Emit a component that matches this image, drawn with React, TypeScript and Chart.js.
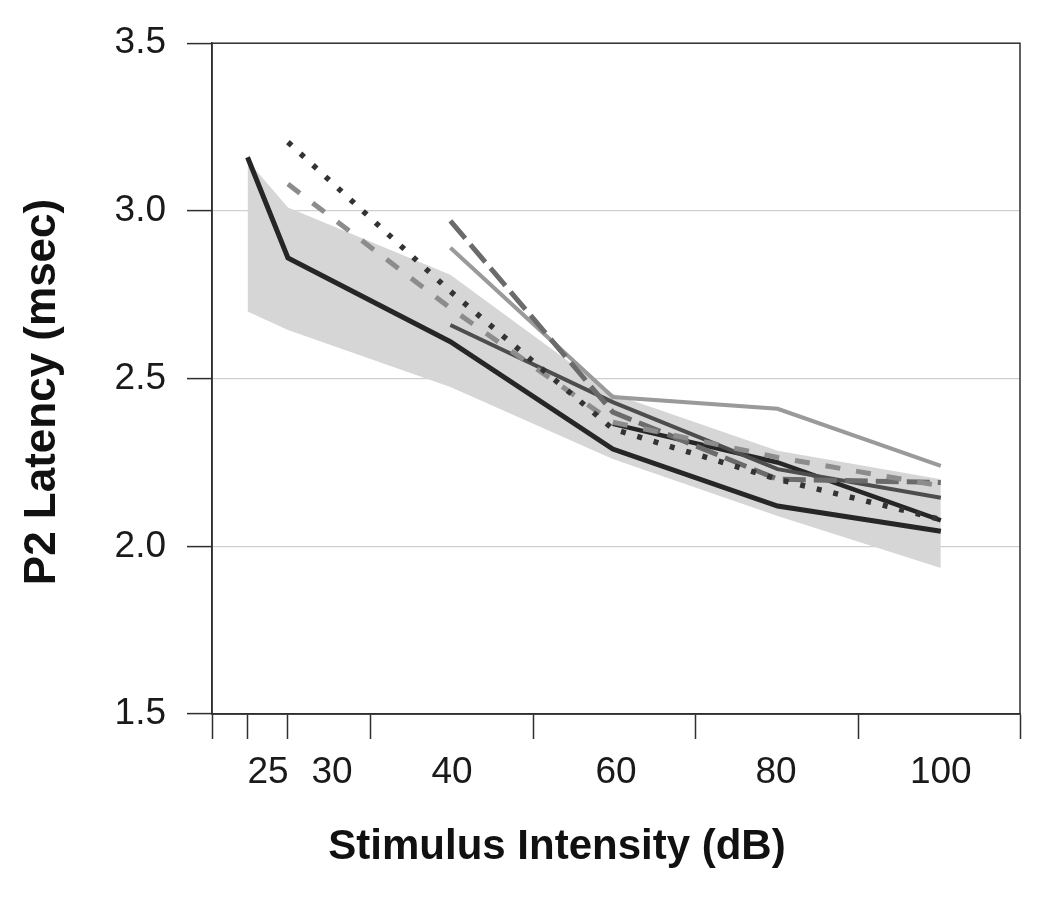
import React, { useEffect, useRef } from "react";
import { Chart, registerables } from "chart.js";

Chart.register(...registerables);

// Stimulus intensities (dB) and their slot on the (non-linear) x axis
const intensities = [25, 30, 40, 60, 80, 100];
const xSlot = [0.22, 0.47, 1.475, 2.48, 3.5, 4.51];

// x-axis tick marks (between groups) and label slots
const xTickMarks = [0, 0.22, 0.47, 0.98, 1.99, 2.99, 4.0, 5];
const xLabelSlots = [0.347, 0.743, 1.485, 2.5, 3.49, 4.51];
const xLabels = ["25", "30", "40", "60", "80", "100"];

// P2 latency (msec)
const meanLatency = [3.16, 2.86, 2.61, 2.29, 2.12, 2.045];
const bandUpper = [3.15, 3.01, 2.81, 2.455, 2.285, 2.2];
const bandLower = [2.7, 2.645, 2.475, 2.26, 2.09, 1.935];
const dottedSeries = [null, 3.205, 2.76, 2.35, 2.2, 2.08];
const greyDashedSeries = [null, 3.08, 2.71, 2.37, 2.265, 2.18];
const longDashSeries = [null, null, 2.97, 2.4, 2.2, 2.19];
const greySolidSeries = [null, null, 2.89, 2.445, 2.41, 2.24];
const darkSolidSeries = [null, null, 2.66, 2.43, 2.23, 2.145];
const blackSolidSeries = [null, null, null, 2.365, 2.25, 2.077];

const yTicks = [1.5, 2.0, 2.5, 3.0, 3.5];
const xTitle = "Stimulus Intensity (dB)";
const yTitle = "P2 Latency (msec)";

const FONT = '"Liberation Sans", Arial, Helvetica, sans-serif';

function toPoints(values: (number | null)[]) {
  const pts: { x: number; y: number }[] = [];
  values.forEach((v, i) => {
    if (v !== null) pts.push({ x: xSlot[i], y: v });
  });
  return pts;
}

const framePlugin = {
  id: "frameAndTitles",
  afterDraw(chart: any) {
    const { ctx, chartArea: a } = chart;
    ctx.save();
    ctx.strokeStyle = "#2e2e2e";
    ctx.lineWidth = 1.5;
    ctx.strokeRect(a.left, a.top, a.right - a.left, a.bottom - a.top);
    ctx.fillStyle = "#111";
    ctx.textAlign = "center";
    ctx.textBaseline = "middle";
    ctx.font = `bold 42px ${FONT}`;
    ctx.fillText(xTitle, 557, 847);
    ctx.translate(43, 392);
    ctx.rotate(-Math.PI / 2);
    ctx.font = `bold 44px ${FONT}`;
    ctx.fillText(yTitle, 0, 0);
    ctx.restore();
  },
};

export default function App() {
  const ref = useRef<HTMLCanvasElement | null>(null);

  useEffect(() => {
    if (!ref.current) return;
    const line = (
      label: string,
      values: (number | null)[],
      color: string,
      width: number,
      dash: number[] = [],
      cap: CanvasLineCap = "butt"
    ) => ({
      label,
      data: toPoints(values),
      borderColor: color,
      borderWidth: width,
      borderDash: dash,
      borderCapStyle: cap,
      pointRadius: 0,
      fill: false,
      tension: 0,
      order: 1,
    });

    const chart = new Chart(ref.current, {
      type: "line",
      data: {
        datasets: [
          line("Mean", meanLatency, "#262626", 5),
          line("Subject A", dottedSeries, "#333333", 5.5, [5, 12]),
          line("Subject B", greyDashedSeries, "#8c8c8c", 5, [15, 16]),
          line("Subject C", longDashSeries, "#6b6b6b", 5, [23, 8]),
          line("Subject D", greySolidSeries, "#9a9a9a", 4),
          line("Subject E", darkSolidSeries, "#4d4d4d", 4),
          line("Subject F", blackSolidSeries, "#262626", 4.5),
          {
            label: "Range lower",
            data: toPoints(bandLower),
            borderWidth: 0,
            borderColor: "rgba(0,0,0,0)",
            pointRadius: 0,
            fill: false,
            order: 10,
          },
          {
            label: "Range upper",
            data: toPoints(bandUpper),
            borderWidth: 0,
            borderColor: "rgba(0,0,0,0)",
            backgroundColor: "#d6d6d6",
            pointRadius: 0,
            fill: "-1",
            order: 10,
          },
        ] as any,
      },
      options: {
        animation: false,
        responsive: false,
        devicePixelRatio: 1,
        layout: { padding: { top: 41, right: 30, left: 0, bottom: 0 } },
        plugins: {
          legend: { display: false },
          tooltip: { enabled: false },
          title: { display: false },
        },
        scales: {
          x: {
            type: "linear",
            min: 0,
            max: 5,
            afterBuildTicks: (s: any) => {
              const vals = [...xTickMarks, ...xLabelSlots].sort((p, q) => p - q);
              s.ticks = vals.map((v) => ({ value: v }));
            },
            afterFit: (s: any) => {
              s.height = 186;
            },
            ticks: {
              autoSkip: false,
              maxRotation: 0,
              minRotation: 0,
              padding: 12,
              color: "#1a1a1a",
              font: { family: FONT, size: 37 },
              callback: (v: any) => {
                const i = xLabelSlots.indexOf(v);
                return i >= 0 ? xLabels[i] : "";
              },
            },
            grid: {
              drawOnChartArea: false,
              drawTicks: true,
              tickLength: 25,
              tickWidth: 1.5,
              tickColor: (c: any) =>
                c.tick && xTickMarks.includes(c.tick.value) ? "#2e2e2e" : "rgba(0,0,0,0)",
            },
            border: { display: true, color: "#2e2e2e", width: 1.5 },
          },
          y: {
            type: "linear",
            min: 1.5,
            max: 3.5,
            afterBuildTicks: (s: any) => {
              s.ticks = yTicks.map((v) => ({ value: v }));
            },
            afterFit: (s: any) => {
              s.width = 212;
            },
            ticks: {
              padding: 21,
              color: "#1a1a1a",
              font: { family: FONT, size: 37 },
              callback: (v: any) => Number(v).toFixed(1),
            },
            grid: {
              color: (c: any) =>
                c.tick && (c.tick.value === 1.5 || c.tick.value === 3.5)
                  ? "rgba(0,0,0,0)"
                  : "#cfcfcf",
              lineWidth: 1.2,
              tickLength: 25,
              tickWidth: 1.5,
              tickColor: "#2e2e2e",
            },
            border: { display: true, color: "#2e2e2e", width: 1.5 },
          },
        },
      },
      plugins: [framePlugin],
    });
    return () => chart.destroy();
  }, []);

  return (
    <div style={{ position: "absolute", left: 0, top: 0, width: 1050, height: 900, background: "#fff" }}>
      <canvas ref={ref} width={1050} height={900} style={{ width: 1050, height: 900, display: "block" }} />
    </div>
  );
}
